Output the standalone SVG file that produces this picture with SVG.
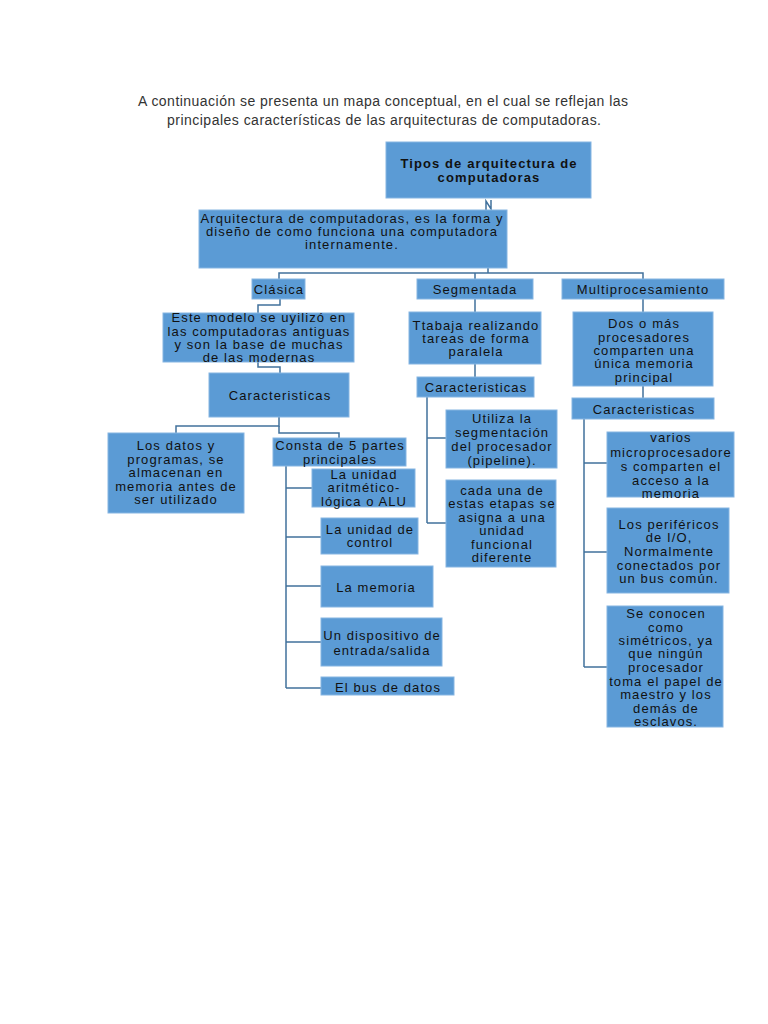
<svg xmlns="http://www.w3.org/2000/svg" width="768" height="1024" viewBox="0 0 768 1024">
<style>
.bg{fill:#ffffff}
.box{fill:#5b9bd5;stroke:#86b5e2;stroke-width:1}
.t{font-family:"Liberation Sans",Arial,sans-serif;font-size:13px;letter-spacing:1.1px;fill:#111;text-anchor:middle}
.b{font-weight:bold}
.title{font-family:"Liberation Sans",Arial,sans-serif;font-size:14px;fill:#333;text-anchor:middle}
.c{fill:none;stroke:#41719c;stroke-width:1.5}
</style>
<rect class="bg" x="0" y="0" width="768" height="1024"/>
<g id="intro">
<text class="title" x="383" y="106" textLength="490" lengthAdjust="spacing">A continuación se presenta un mapa conceptual, en el cual se reflejan las</text>
<text class="title" x="384" y="125" textLength="434" lengthAdjust="spacing">principales características de las arquitecturas de computadoras.</text>
</g>
<g id="connectors">
<path class="c" d="M488,211 V273"/>
<path class="c" d="M486,210 V201 L491,209 V200" stroke-width="1"/>
<path class="c" d="M279,279 V273 H643 V279"/>
<path class="c" d="M475,273 V279"/>
<path class="c" d="M280,299 V305 H258 V313"/>
<path class="c" d="M258,362 V367 H280 V373"/>
<path class="c" d="M279,417 V426 H176 V433"/>
<path class="c" d="M279,426 V433 H339 V438"/>
<path class="c" d="M286,466 V688 M286,488 H312 M286,537 H321 M286,586 H321 M286,642 H321 M286,688 H321"/>
<path class="c" d="M475,299 V312 M475,364 V377"/>
<path class="c" d="M427,397 V523 M427,438 H446 M427,523 H446"/>
<path class="c" d="M643,299 V312 M643,386 V398"/>
<path class="c" d="M584,419 V667 M584,463 H607 M584,552 H607 M584,667 H607"/>
</g>
<g id="tipos">
<rect class="box" x="386" y="142" width="205" height="56"/>
<text class="t b" x="489" y="167.5">Tipos de arquitectura de</text>
<text class="t b" x="489" y="181.5">computadoras</text>
</g>
<g id="definicion">
<rect class="box" x="199" y="210" width="308" height="58"/>
<text class="t" x="352" y="222.5">Arquitectura de computadoras, es la forma y</text>
<text class="t" x="352" y="235.5">diseño de como funciona una computadora</text>
<text class="t" x="352" y="248.5">internamente.</text>
</g>
<g id="clasica">
<rect class="box" x="252" y="279" width="53" height="20"/>
<text class="t" x="279" y="293.5">Clásica</text>
</g>
<g id="segmentada">
<rect class="box" x="417" y="279" width="116" height="20"/>
<text class="t" x="475" y="293.5">Segmentada</text>
</g>
<g id="multiprocesamiento">
<rect class="box" x="562" y="279" width="162" height="20"/>
<text class="t" x="643" y="293.5">Multiprocesamiento</text>
</g>
<g id="este-modelo">
<rect class="box" x="163" y="313" width="191" height="49"/>
<text class="t" x="259" y="321.5">Este modelo se uyilizó en</text>
<text class="t" x="259" y="335.5">las computadoras antiguas</text>
<text class="t" x="259" y="348.5">y son la base de muchas</text>
<text class="t" x="259" y="361.5">de las  modernas</text>
</g>
<g id="caract-clasica">
<rect class="box" x="209" y="373" width="140" height="44"/>
<text class="t" x="280" y="399.5">Caracteristicas</text>
</g>
<g id="los-datos">
<rect class="box" x="108" y="433" width="136" height="80"/>
<text class="t" x="176" y="449.5">Los datos y</text>
<text class="t" x="176" y="463.5">programas, se</text>
<text class="t" x="176" y="476.5">almacenan en</text>
<text class="t" x="176" y="490.5">memoria antes de</text>
<text class="t" x="176" y="503.5">ser utilizado</text>
</g>
<g id="consta">
<rect class="box" x="273" y="438" width="133" height="28"/>
<text class="t" x="340" y="449.5">Consta de 5 partes</text>
<text class="t" x="340" y="463.5">principales</text>
</g>
<g id="alu">
<rect class="box" x="312" y="469" width="103" height="38"/>
<text class="t" x="364" y="478.5">La unidad</text>
<text class="t" x="364" y="491.5">aritmético-</text>
<text class="t" x="364" y="505.5">lógica o ALU</text>
</g>
<g id="control">
<rect class="box" x="321" y="518" width="97" height="36"/>
<text class="t" x="370" y="533.5">La unidad de</text>
<text class="t" x="370" y="546.5">control</text>
</g>
<g id="memoria">
<rect class="box" x="321" y="566" width="112" height="41"/>
<text class="t" x="376" y="591.5">La memoria</text>
</g>
<g id="dispositivo">
<rect class="box" x="321" y="618" width="121" height="48"/>
<text class="t" x="382" y="639.5">Un dispositivo de</text>
<text class="t" x="382" y="654.5">entrada/salida</text>
</g>
<g id="bus">
<rect class="box" x="321" y="677" width="133" height="18"/>
<text class="t" x="388" y="691.5">El bus de datos</text>
</g>
<g id="ttabaja">
<rect class="box" x="409" y="312" width="132" height="52"/>
<text class="t" x="476" y="329.5">Ttabaja realizando</text>
<text class="t" x="476" y="342.5">tareas de forma</text>
<text class="t" x="476" y="355.5">paralela</text>
</g>
<g id="caract-seg">
<rect class="box" x="417" y="377" width="117" height="20"/>
<text class="t" x="476" y="391.5">Caracteristicas</text>
</g>
<g id="utiliza">
<rect class="box" x="446" y="410" width="111" height="58"/>
<text class="t" x="502" y="422.5">Utiliza la</text>
<text class="t" x="502" y="436.5">segmentación</text>
<text class="t" x="502" y="450.5">del procesador</text>
<text class="t" x="502" y="464.5">(pipeline).</text>
</g>
<g id="cada-una">
<rect class="box" x="446" y="480" width="110" height="87"/>
<text class="t" x="502" y="494.5">cada una de</text>
<text class="t" x="502" y="507.5">estas etapas se</text>
<text class="t" x="502" y="521.5">asigna a una</text>
<text class="t" x="502" y="534.5">unidad</text>
<text class="t" x="502" y="548.5">funcional</text>
<text class="t" x="502" y="561.5">diferente</text>
</g>
<g id="dos-o-mas">
<rect class="box" x="573" y="312" width="140" height="74"/>
<text class="t" x="644" y="327.5">Dos o más</text>
<text class="t" x="644" y="341.5">procesadores</text>
<text class="t" x="644" y="354.5">comparten una</text>
<text class="t" x="644" y="367.5">única memoria</text>
<text class="t" x="644" y="381.5">principal</text>
</g>
<g id="caract-multi">
<rect class="box" x="572" y="398" width="142" height="21"/>
<text class="t" x="644" y="413.5">Caracteristicas</text>
</g>
<g id="varios">
<rect class="box" x="607" y="432" width="127" height="65"/>
<text class="t" x="671" y="441.5">varios</text>
<text class="t" x="671" y="456.5">microprocesadore</text>
<text class="t" x="671" y="470.5">s comparten el</text>
<text class="t" x="671" y="484.5">acceso a la</text>
<text class="t" x="671" y="497.5">memoria</text>
</g>
<g id="perifericos">
<rect class="box" x="607" y="508" width="122" height="85"/>
<text class="t" x="669" y="528.5">Los periféricos</text>
<text class="t" x="669" y="541.5">de I/O,</text>
<text class="t" x="669" y="555.5">Normalmente</text>
<text class="t" x="669" y="569.5">conectados por</text>
<text class="t" x="669" y="582.5">un bus común.</text>
</g>
<g id="simetricos">
<rect class="box" x="607" y="606" width="116" height="121"/>
<text class="t" x="666" y="617.5">Se conocen</text>
<text class="t" x="666" y="631.5">como</text>
<text class="t" x="666" y="644.5">simétricos, ya</text>
<text class="t" x="666" y="657.5">que ningún</text>
<text class="t" x="666" y="671.5">procesador</text>
<text class="t" x="666" y="685.5">toma el papel de</text>
<text class="t" x="666" y="698.5">maestro y los</text>
<text class="t" x="666" y="712.5">demás de</text>
<text class="t" x="666" y="725.5">esclavos.</text>
</g>
</svg>
